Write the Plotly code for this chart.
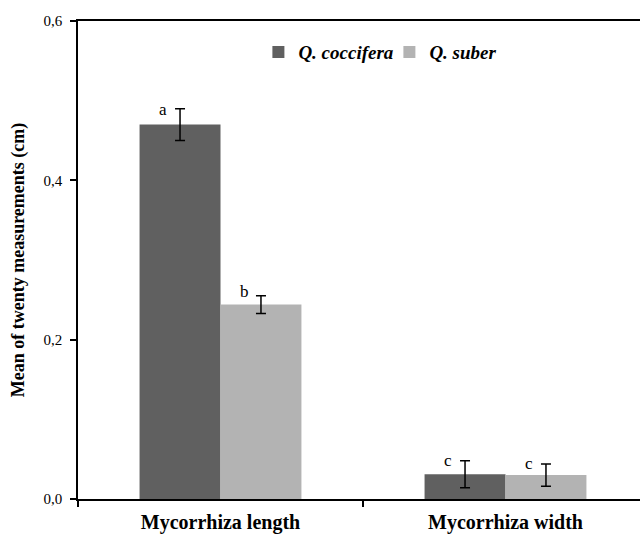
import plotly.graph_objects as go

categories = ["Mycorrhiza length", "Mycorrhiza width"]
series_names = ["Q. coccifera", "Q. suber"]
coccifera_means = [0.470, 0.031]
coccifera_err = [0.020, 0.017]
suber_means = [0.244, 0.030]
suber_err = [0.011, 0.014]
coccifera_letters = ["a", "c"]
suber_letters = ["b", "c"]
y_ticks = [0.0, 0.2, 0.4, 0.6]

SERIF = "Liberation Serif, Times New Roman, serif"
colors = ["#606060", "#b3b3b3"]

fig = go.Figure()
for name, means, errs, col in [
    (series_names[0], coccifera_means, coccifera_err, colors[0]),
    (series_names[1], suber_means, suber_err, colors[1]),
]:
    fig.add_trace(go.Bar(
        x=categories, y=means, name="<b><i>" + name + "</i></b>",
        marker=dict(color=col, line=dict(width=0)),
        error_y=dict(type="data", array=errs, visible=True,
                     color="black", thickness=1.5, width=5),
    ))

# significance letters
for letters, means, errs, side, ys in [
    (coccifera_letters, coccifera_means, coccifera_err, -1, [-1, 0]),
    (suber_letters, suber_means, suber_err, 1, [4, 0]),
]:
    for cat, let, m, e, dy in zip(categories, letters, means, errs, ys):
        fig.add_annotation(
            x=cat, y=m + e, xref="x", yref="y", text=let, showarrow=False,
            xshift=side * 40.5 - 17, yshift=dy, yanchor="middle",
            font=dict(family=SERIF, size=17, color="black"),
        )

fig.update_layout(
    width=640, height=534,
    margin=dict(l=78, r=0, t=21, b=35),
    paper_bgcolor="white", plot_bgcolor="white",
    barmode="group", bargap=0.432, bargroupgap=0,
    separators=", ",
    showlegend=True,
    legend=dict(orientation="h", x=0.321, y=0.935, xanchor="left", yanchor="middle",
                font=dict(family=SERIF, size=19, color="black"),
                bgcolor="rgba(0,0,0,0)", itemwidth=30, tracegroupgap=0,
                entrywidth=86, entrywidthmode="pixels"),
    font=dict(family=SERIF, color="black"),
)
fig.update_xaxes(
    type="category", range=[-0.5, -0.5 + 562 / 285],
    showline=True, linecolor="black", linewidth=1.5, mirror=True,
    ticks="outside", ticklen=6, tickcolor="black", tickwidth=1.5,
    tickson="boundaries", showgrid=False, ticklabelstandoff=4,
    tickfont=dict(family=SERIF, size=20, color="black"),
    ticktext=["<b>" + c + "</b>" for c in categories], tickvals=categories,
)
fig.update_yaxes(
    range=[0, 0.6], tickvals=y_ticks, tickformat=".1f",
    showline=True, linecolor="black", linewidth=1.5,
    ticks="outside", ticklen=6, tickcolor="black", tickwidth=1.5,
    showgrid=False, zeroline=False, ticklabelstandoff=5,
    tickfont=dict(family=SERIF, size=15, color="black"),
    title=dict(text="<b>Mean of twenty measurements (cm)</b>",
               font=dict(family=SERIF, size=18, color="black"), standoff=14),
)
fig.write_html("out.html", config={"displayModeBar": False},
               post_script="document.body.style.margin='0';")
